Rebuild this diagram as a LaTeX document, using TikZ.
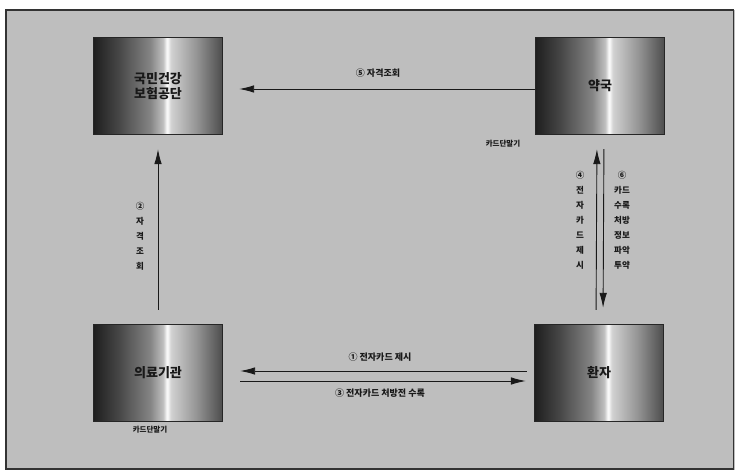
\documentclass[tikz,border=0pt]{standalone}
\usepackage{fontspec}
\setmainfont{Noto Sans CJK KR}
\usetikzlibrary{arrows.meta,calc}
\definecolor{bggray}{RGB}{190,190,190}
\definecolor{inkc}{RGB}{25,25,25}
\pgfdeclarehorizontalshading{boxshade}{100bp}{%
  color(0bp)=(black!88);
  color(25bp)=(black!88);
  color(35bp)=(black!72);
  color(47bp)=(black!48);
  color(52bp)=(black!25);
  color(53.5bp)=(white);
  color(55bp)=(black!18);
  color(65bp)=(black!42);
  color(75bp)=(black!70);
  color(100bp)=(black!70)}
\tikzset{
  box/.style={draw=black!85, line width=1.3pt, shade, shading=boxshade,
    minimum width=129pt, minimum height=97pt, inner sep=0pt, align=center,
    text=inkc, font=\bfseries\fontsize{13}{14.5}\selectfont},
  arr/.style={draw=inkc, line width=0.9pt, -{Latex[length=15pt,width=7.5pt]}},
  lbl/.style={text=inkc, font=\bfseries\fontsize{9}{10}\selectfont, inner sep=0pt},
  vlbl/.style={text=inkc, font=\bfseries\fontsize{8.5}{15}\selectfont, inner sep=0pt, align=center},
  small/.style={text=inkc, font=\bfseries\fontsize{7.5}{9}\selectfont, inner sep=0pt}
}
\begin{document}
\begin{tikzpicture}[x=1pt,y=-1pt]
\useasboundingbox (0,0) rectangle (735,470);
\fill[white] (0,0) rectangle (735,470);
\fill[bggray] (6,10) rectangle (735,470);
\draw[black!80, line width=1.5pt] (6,10) rectangle (733.5,469);

\node[box] (gd) at (158,86) {국민건강\\보험공단};
\node[box] (yk) at (600,86) {약국};
\node[box] (ur) at (158,373) {의료기관};
\node[box] (hj) at (599,373) {환자};

% 5
\draw[arr, shorten >=16pt] ($(yk.west)+(0,3)$) -- ($(gd.east)+(0,3)$);
\node[lbl] (l5) at (378,73) {⑤ 자격조회};

% 2
\draw[arr, shorten <=14pt, shorten >=14pt] (ur.north) -- (gd.south);
\node[vlbl] (l2) at (140,236) {②\\자\\격\\조\\회};

% 1 and 3
\draw[arr, shorten <=7pt, shorten >=17pt] ($(hj.west)+(0,-2)$) -- ($(ur.east)+(0,-2)$);
\draw[arr, shorten <=17pt, shorten >=8pt] ($(ur.east)+(0,8)$) -- ($(hj.west)+(0,8)$);
\node[lbl] (l1) at (380,357) {① 전자카드 제시};
\node[lbl] (l3) at (380,393) {③ 전자카드 처방전 수록};

% 4 and 6
\draw[arr, shorten <=14pt, shorten >=14pt] ($(hj.north)+(-3,0)$) -- ($(yk.south)+(-3,0)$);
\draw[arr, shorten <=14pt, shorten >=16pt] ($(yk.south)+(4,0)$) -- ($(hj.north)+(4,0)$);
\node[vlbl] (l4) at (580,220) {④\\전\\자\\카\\드\\제\\시};
\node[vlbl] (l6) at (622,220) {⑥\\카드\\수록\\처방\\정보\\파악\\투약};

% card terminals
\node[small] (t1) at (503,144) {카드단말기};
\node[small] (t2) at (150,430) {카드단말기};
\end{tikzpicture}
\end{document}
